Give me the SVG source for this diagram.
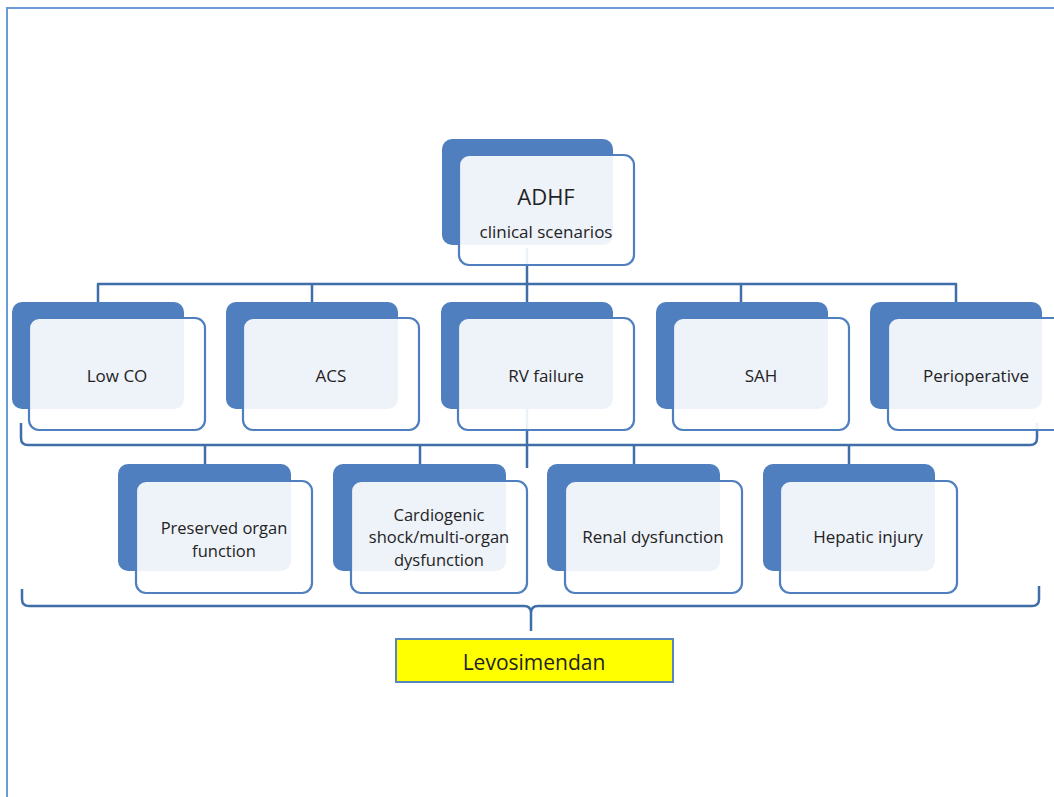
<svg xmlns="http://www.w3.org/2000/svg" width="1054" height="797" viewBox="0 0 1054 797">
<defs>
<style>
.frame{fill:none;stroke:#6b9bd6;stroke-width:2}
.conn{fill:none;stroke:#3f6ea8;stroke-width:2.5;stroke-linejoin:round;stroke-linecap:butt}
.back{fill:#4f7fbf}
.front{fill:#ffffff;fill-opacity:0.9;stroke:#4f7fbf;stroke-width:2.2}
.lbl{font-family:"Open Sans","Liberation Sans",sans-serif;font-size:17px;fill:#232323;text-anchor:middle}
.big{font-size:22px}
.ml{font-size:16.5px}
.lev{fill:#ffff00;stroke:#5a86c0;stroke-width:2}
</style>
</defs>
<rect width="1054" height="797" fill="#ffffff"/>
<rect class="frame" x="7" y="8" width="1100" height="900"/>

<g id="connectors">
  <line class="conn" x1="527" y1="248" x2="527" y2="302"/>
  <path class="conn" d="M98,302 V284 H956 V302"/>
  <line class="conn" x1="312" y1="284" x2="312" y2="302"/>
  <line class="conn" x1="741" y1="284" x2="741" y2="302"/>
  <path class="conn" d="M21,423 V438 Q21,445 28,445 H1030 Q1037,445 1037,438 V423"/>
  <line class="conn" x1="527" y1="408" x2="527" y2="468"/>
  <line class="conn" x1="205" y1="445" x2="205" y2="464"/>
  <line class="conn" x1="420" y1="445" x2="420" y2="464"/>
  <line class="conn" x1="634" y1="445" x2="634" y2="464"/>
  <line class="conn" x1="849" y1="445" x2="849" y2="464"/>
  <path class="conn" d="M22,589 V599 Q22,606 29,606 H524 Q531,606 531,613 V631 M531,613 Q531,606 538,606 H1032 Q1039,606 1039,599 V586"/>
</g>

<g id="node-adhf">
  <rect class="back" x="442" y="139" width="171" height="106" rx="10"/>
  <rect class="front" x="459" y="155" width="175" height="110" rx="10"/>
  <text class="lbl big" x="546" y="205">ADHF</text>
  <text class="lbl" x="546" y="238">clinical scenarios</text>
</g>

<g id="node-lowco">
  <rect class="back" x="12" y="302" width="172" height="107" rx="10"/>
  <rect class="front" x="29" y="318" width="176" height="112" rx="10"/>
  <text class="lbl" x="117" y="382">Low CO</text>
</g>
<g id="node-acs">
  <rect class="back" x="226" y="302" width="172" height="107" rx="10"/>
  <rect class="front" x="243" y="318" width="176" height="112" rx="10"/>
  <text class="lbl" x="331" y="382">ACS</text>
</g>
<g id="node-rv">
  <rect class="back" x="441" y="302" width="172" height="107" rx="10"/>
  <rect class="front" x="458" y="318" width="176" height="112" rx="10"/>
  <text class="lbl" x="546" y="382">RV failure</text>
</g>
<g id="node-sah">
  <rect class="back" x="656" y="302" width="172" height="107" rx="10"/>
  <rect class="front" x="673" y="318" width="176" height="112" rx="10"/>
  <text class="lbl" x="761" y="382">SAH</text>
</g>
<g id="node-periop">
  <rect class="back" x="870" y="302" width="172" height="107" rx="10"/>
  <rect class="front" x="888" y="318" width="176" height="112" rx="10"/>
  <text class="lbl" x="976" y="382">Perioperative</text>
</g>

<g id="node-preserved">
  <rect class="back" x="118" y="464" width="173" height="107" rx="10"/>
  <rect class="front" x="136" y="481" width="176" height="112" rx="10"/>
  <text class="lbl ml" x="224" y="534">Preserved organ</text>
  <text class="lbl ml" x="224" y="556.5">function</text>
</g>
<g id="node-cardiogenic">
  <rect class="back" x="333" y="464" width="173" height="107" rx="10"/>
  <rect class="front" x="351" y="481" width="176" height="112" rx="10"/>
  <text class="lbl ml" x="439" y="520.5">Cardiogenic</text>
  <text class="lbl ml" x="439" y="543">shock/multi-organ</text>
  <text class="lbl ml" x="439" y="565.5">dysfunction</text>
</g>
<g id="node-renal">
  <rect class="back" x="547" y="464" width="173" height="107" rx="10"/>
  <rect class="front" x="565" y="481" width="177" height="112" rx="10"/>
  <text class="lbl" x="653" y="543">Renal dysfunction</text>
</g>
<g id="node-hepatic">
  <rect class="back" x="763" y="464" width="172" height="107" rx="10"/>
  <rect class="front" x="780" y="481" width="177" height="112" rx="10"/>
  <text class="lbl" x="868" y="543">Hepatic injury</text>
</g>

<g id="node-levosimendan">
  <rect class="lev" x="396" y="639" width="277" height="43"/>
  <text class="lbl" x="534" y="670" style="font-size:21px">Levosimendan</text>
</g>
</svg>
